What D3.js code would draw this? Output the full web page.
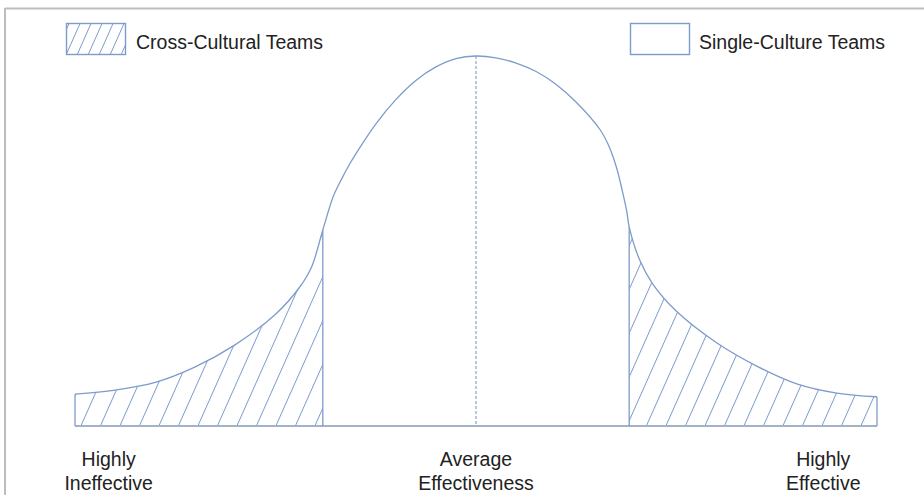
<!DOCTYPE html>
<html>
<head>
<meta charset="utf-8">
<script src="https://cdn.jsdelivr.net/npm/d3@7"></script>
<style>
  html, body { margin: 0; padding: 0; background: #fff; }
  svg { display: block; font-family: "Liberation Sans", Arial, sans-serif; }
</style>
</head>
<body>
<svg id="chart" width="924" height="495"></svg>
<script>
// ---- data ----
const effectiveness = [0, 5, 10, 15, 20, 25, 28, 29.5, 30.9, 32.2, 33.3, 34.3, 35, 37.5, 40, 42.5, 45, 47.5, 50, 52.5,
                       55, 57.5, 60, 62.5, 65.5, 66.5, 67.5, 68.3, 68.8, 69.1, 70.4, 72, 75, 80, 85, 90, 95, 100];
const frequency     = [8.6, 9.7, 11.8, 16, 22, 30.2, 37.5, 43, 53, 62, 67, 71, 73.5, 81.6, 88.2, 93.4, 97.05, 99.3, 100, 99.5,
                       98.1, 95.8, 92.3, 87.5, 80, 76, 70, 63, 58, 53.8, 44.9, 38.5, 31, 22.5, 16.2, 11.4, 8.9, 7.9];
const tailBounds = [30.9, 69.1];          // where cross-cultural tails end / begin
const meanValue = 50;
const legendLabels = ["Cross-Cultural Teams", "Single-Culture Teams"];
const axisLabels = [
  { pos: 4.2, lines: ["Highly", "Ineffective"] },
  { pos: 50, lines: ["Average", "Effectiveness"] },
  { pos: 93.3, lines: ["Highly", "Effective"] }
];

const points = effectiveness.map((e, i) => ({ e, f: frequency[i] }));

const svg = d3.select("#chart");
const lineColor = "#7e9bcb";
const textColor = "#222";

const x = d3.scaleLinear().domain([0, 100]).range([75, 877]);
const y = d3.scaleLinear().domain([0, 100]).range([426, 56]);

const curve = d3.curveCatmullRom.alpha(0.5);
const fAt = v => frequency[effectiveness.indexOf(v)];

// frame (top & left border)
svg.append("line").attr("x1", 5).attr("x2", 924).attr("y1", 8.5).attr("y2", 8.5)
  .attr("stroke", "#bdbdbd").attr("stroke-width", 2);
svg.append("line").attr("x1", 5).attr("x2", 5).attr("y1", 8).attr("y2", 495)
  .attr("stroke", "#bdbdbd").attr("stroke-width", 2);

// patterns
const defs = svg.append("defs");
const pat = defs.append("pattern").attr("id", "hatch")
  .attr("patternUnits", "userSpaceOnUse").attr("width", 19.5).attr("height", 19.5)
  .attr("x", x(0)).attr("y", y(0))
  .attr("patternTransform", "skewX(-24)");
pat.append("line").attr("x1", 0.5).attr("x2", 0.5).attr("y1", 0).attr("y2", 19.5)
  .attr("stroke", lineColor).attr("stroke-width", 1.1);

const pat2 = defs.append("pattern").attr("id", "hatchLegend")
  .attr("patternUnits", "userSpaceOnUse").attr("width", 11).attr("height", 11)
  .attr("x", 68).attr("y", 54)
  .attr("patternTransform", "skewX(-24)");
pat2.append("line").attr("x1", 0.5).attr("x2", 0.5).attr("y1", 0).attr("y2", 11)
  .attr("stroke", lineColor).attr("stroke-width", 1);

// clip to area under curve
const area = d3.area().x(d => x(d.e)).y0(y(0)).y1(d => y(d.f)).curve(curve);
defs.append("clipPath").attr("id", "under").append("path").attr("d", area(points));

// hatched tails
const tails = [[0, tailBounds[0]], [tailBounds[1], 100]];
svg.append("g").attr("clip-path", "url(#under)")
  .selectAll("rect").data(tails).join("rect")
  .attr("x", d => x(d[0])).attr("width", d => x(d[1]) - x(d[0]))
  .attr("y", y(100)).attr("height", y(0) - y(100))
  .attr("fill", "url(#hatch)");

// baseline
svg.append("line").attr("x1", x(0)).attr("x2", x(100)).attr("y1", y(0)).attr("y2", y(0))
  .attr("stroke", "#a3b3c6").attr("stroke-width", 2);

// curve
const line = d3.line().x(d => x(d.e)).y(d => y(d.f)).curve(curve);
svg.append("path").attr("d", line(points)).attr("fill", "none")
  .attr("stroke", lineColor).attr("stroke-width", 1.3);

// vertical edges & boundaries
const verticals = [0, tailBounds[0], tailBounds[1], 100];
svg.selectAll("line.vert").data(verticals).join("line").attr("class", "vert")
  .attr("x1", d => x(d)).attr("x2", d => x(d))
  .attr("y1", y(0)).attr("y2", d => y(fAt(d)))
  .attr("stroke", lineColor).attr("stroke-width", 1.3);

// mean dotted line
svg.append("line").attr("x1", x(meanValue)).attr("x2", x(meanValue))
  .attr("y1", y(fAt(meanValue))).attr("y2", y(0))
  .attr("stroke", lineColor).attr("stroke-width", 1.1).attr("stroke-dasharray", "3,2");

// legend
const legend = [
  { label: legendLabels[0], bx: 66, fill: "url(#hatchLegend)", tx: 136 },
  { label: legendLabels[1], bx: 630, fill: "#fff", tx: 699 }
];
const lg = svg.selectAll("g.leg").data(legend).join("g").attr("class", "leg");
lg.append("rect").attr("x", d => d.bx + 0.5).attr("y", 23.5).attr("width", 59).attr("height", 31)
  .attr("fill", d => d.fill).attr("stroke", lineColor).attr("stroke-width", 1.4);
lg.append("text").attr("x", d => d.tx).attr("y", 49).text(d => d.label)
  .attr("font-size", 19.5).attr("fill", textColor);

// bottom labels
const lab = svg.selectAll("text.lab").data(axisLabels).join("text").attr("class", "lab")
  .attr("text-anchor", "middle").attr("font-size", 19.5).attr("fill", textColor);
lab.selectAll("tspan").data(d => d.lines.map(l => ({ l, pos: d.pos }))).join("tspan")
  .attr("x", d => x(d.pos)).attr("y", (d, i) => 466 + i * 24).text(d => d.l);
</script>
</body>
</html>
